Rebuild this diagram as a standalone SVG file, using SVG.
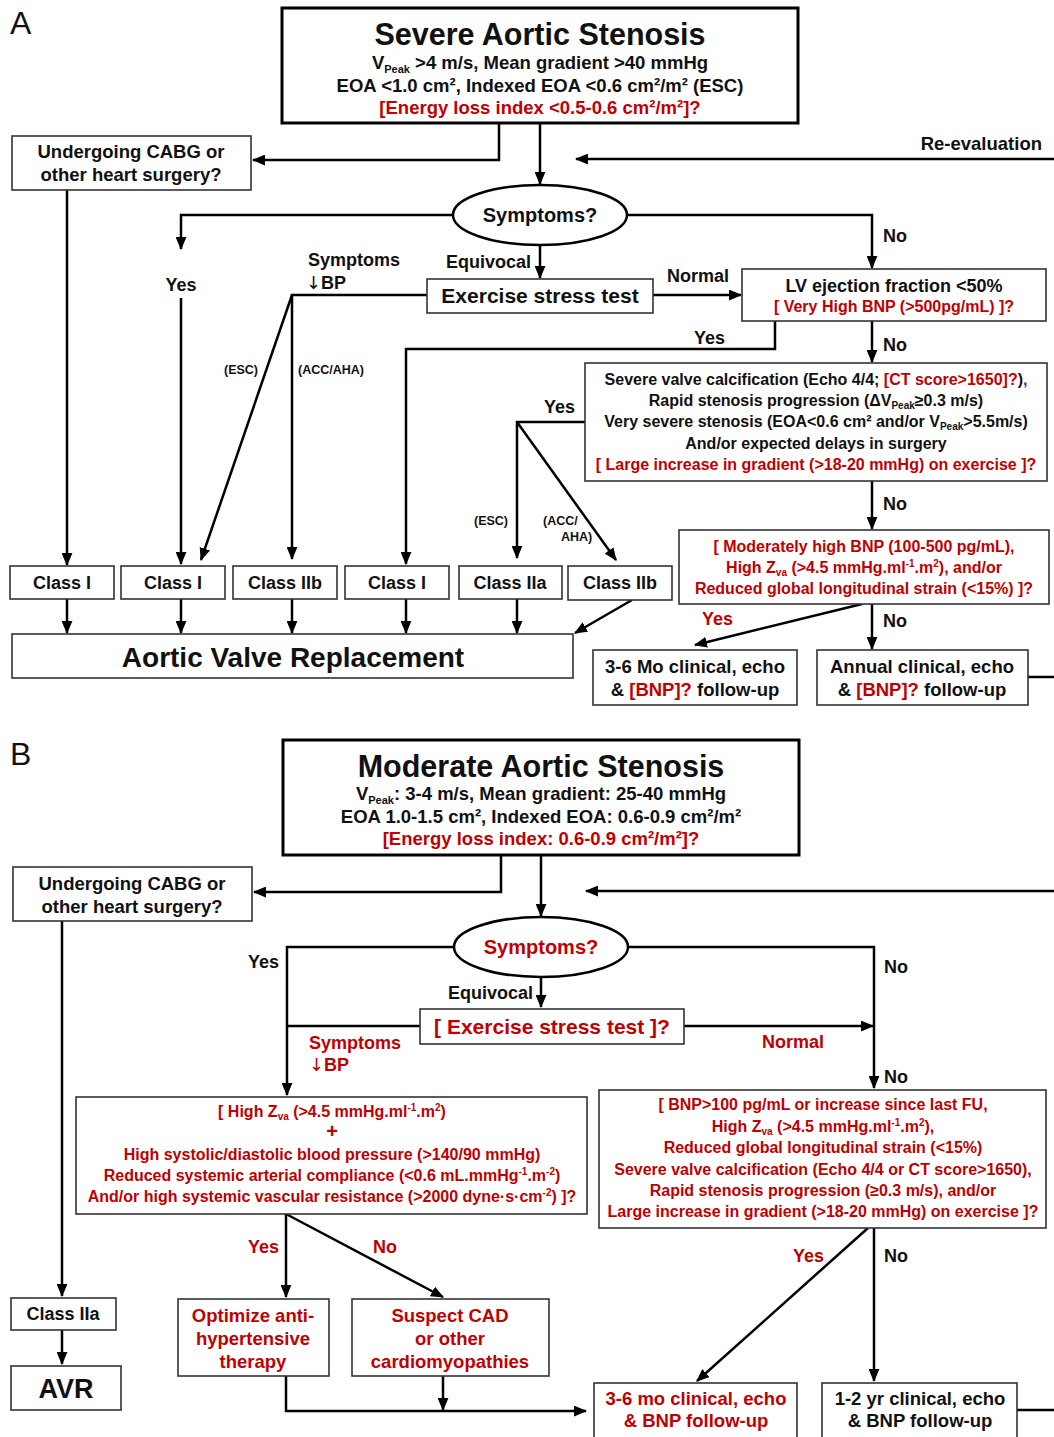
<svg xmlns="http://www.w3.org/2000/svg" width="1054" height="1437" viewBox="0 0 1054 1437">
<style>
text{font-family:"Liberation Sans",Arial,sans-serif;font-weight:bold;fill:#111}
.r{fill:#c00000}
.m{text-anchor:middle}
.e{text-anchor:end}
.box{fill:#fff;stroke:#333;stroke-width:1.6}
.mbox{fill:#fff;stroke:#000;stroke-width:3}
.ell{fill:#fff;stroke:#000;stroke-width:2.5}
.ln{fill:none;stroke:#000;stroke-width:2.5}
.ln path{marker-end:url(#ah)}
.ln path.na{marker-end:none}
.s17{font-size:18.5px}.s18{font-size:18px}.s185{font-size:18.5px}.s15{font-size:16px}.s12{font-size:12.5px}
.arw{font-family:"DejaVu Sans",sans-serif;font-weight:normal}
</style>
<defs>
<marker id="ah" viewBox="0 0 12 10" refX="11" refY="5" markerWidth="13" markerHeight="11" markerUnits="userSpaceOnUse" orient="auto"><path d="M0,0 L12,5 L0,10 z" fill="#000"/></marker>
</defs>
<rect width="1054" height="1437" fill="#fff"/>

<!-- ===== Part A ===== -->
<text x="10" y="34" style="font-size:32px;font-weight:normal">A</text>

<g id="connectors-A" class="ln">
<path d="M499,123 V160 H253"/>
<path d="M540,123 V184"/>
<path d="M1054,159 H576"/>
<path d="M67,190 V565"/>
<path d="M453,215 H181 V249"/>
<path d="M181,298 V564"/>
<path d="M627,215 H872 V268"/>
<path d="M540,245 V278"/>
<path d="M427,295 H292 V559"/>
<path d="M292,295 L201,560"/>
<path d="M653,295 H741"/>
<path d="M775,321 V349 H406 V564"/>
<path d="M872,321 V362"/>
<path d="M585,422 H517 V558"/>
<path d="M517,422 L616,560"/>
<path d="M872,481 V529"/>
<path d="M67,599 V633"/>
<path d="M181,599 V633"/>
<path d="M292,599 V633"/>
<path d="M406,599 V633"/>
<path d="M517,599 V633"/>
<path d="M632,600 L575,633"/>
<path d="M862,604 L695,645"/>
<path d="M872,604 V649"/>
<path class="na" d="M1028,677 H1054"/>
</g>

<g id="severe-as">
<rect class="mbox" x="282" y="8" width="516" height="115"/>
<text class="m" x="540" y="45" style="font-size:30.5px">Severe Aortic Stenosis</text>
<text class="m s185" x="540" y="69">V<tspan font-size="11" dy="4">Peak</tspan><tspan dy="-4"> &gt;4 m/s, Mean gradient &gt;40 mmHg</tspan></text>
<text class="m s185" x="540" y="92">EOA &lt;1.0 cm², Indexed EOA &lt;0.6 cm²/m² (ESC)</text>
<text class="m s185 r" x="540" y="114">[Energy loss index &lt;0.5-0.6 cm²/m²]?</text>
</g>

<g id="cabg-a">
<rect class="box" x="12" y="136" width="239" height="54"/>
<text class="m s185" x="131" y="158">Undergoing CABG or</text>
<text class="m s185" x="131" y="181">other heart surgery?</text>
</g>

<text class="e s185" x="1042" y="150">Re-evaluation</text>

<g id="symptoms-a">
<ellipse class="ell" cx="540" cy="215" rx="87" ry="30"/>
<text class="m" x="540" y="222" style="font-size:20px">Symptoms?</text>
</g>

<text class="m s18" x="181" y="291">Yes</text>
<text class="s18" x="308" y="266">Symptoms</text>
<text class="s18" x="306" y="289"><tspan class="arw">↓</tspan>BP</text>
<text class="e s18" x="531" y="268">Equivocal</text>
<text class="s18" x="667" y="282">Normal</text>
<text class="s18" x="883" y="242">No</text>

<g id="exercise-a">
<rect class="box" x="427" y="279" width="226" height="34"/>
<text class="m" x="540" y="303" style="font-size:21px">Exercise stress test</text>
</g>

<g id="lvef">
<rect class="box" x="742" y="269" width="304" height="52"/>
<text class="m s18" x="894" y="292">LV ejection fraction &lt;50%</text>
<text class="m r" x="894" y="312" style="font-size:16px">[ Very High BNP (&gt;500pg/mL) ]?</text>
</g>

<text class="s12" x="224" y="374">(ESC)</text>
<text class="s12" x="298" y="374">(ACC/AHA)</text>
<text class="s18" x="694" y="344">Yes</text>
<text class="s18" x="883" y="351">No</text>

<g id="calcification">
<rect class="box" x="585" y="363" width="462" height="118"/>
<text class="m s15" x="816" y="385">Severe valve calcification (Echo 4/4; <tspan class="r">[CT score&gt;1650]?</tspan>)<tspan fill="#2040a0">,</tspan></text>
<text class="m s15" x="816" y="406">Rapid stenosis progression (ΔV<tspan font-size="10" dy="3">Peak</tspan><tspan dy="-3">≥0.3 m/s)</tspan></text>
<text class="m s15" x="816" y="427">Very severe stenosis (EOA&lt;0.6 cm² and/or V<tspan font-size="10" dy="3">Peak</tspan><tspan dy="-3">&gt;5.5m/s)</tspan></text>
<text class="m s15" x="816" y="449">And/or expected delays in surgery</text>
<text class="m s15 r" x="816" y="470">[ Large increase in gradient (&gt;18-20 mmHg) on exercise ]?</text>
</g>

<text class="s18" x="544" y="413">Yes</text>
<text class="s12" x="474" y="525">(ESC)</text>
<text class="s12" x="543" y="525">(ACC/</text>
<text class="s12" x="561" y="541">AHA)</text>
<text class="s18" x="883" y="510">No</text>

<g id="bnp-a">
<rect class="box" x="679" y="530" width="370" height="74"/>
<text class="m s15 r" x="864" y="552">[ Moderately high BNP (100-500 pg/mL),</text>
<text class="m s15 r" x="864" y="573">High Z<tspan font-size="10" dy="3">va</tspan><tspan dy="-3"> (&gt;4.5 mmHg.ml</tspan><tspan font-size="10" dy="-6">-1</tspan><tspan dy="6">.m</tspan><tspan font-size="10" dy="-6">2</tspan><tspan dy="6">),  and/or</tspan></text>
<text class="m s15 r" x="864" y="594">Reduced global longitudinal strain (&lt;15%) ]?</text>
</g>

<g id="class-a1"><rect class="box" x="10" y="566" width="104" height="33"/><text class="m s18" x="62" y="589">Class I</text></g>
<g id="class-a2"><rect class="box" x="121" y="566" width="104" height="33"/><text class="m s18" x="173" y="589">Class I</text></g>
<g id="class-a3"><rect class="box" x="233" y="566" width="104" height="33"/><text class="m s18" x="285" y="589">Class IIb</text></g>
<g id="class-a4"><rect class="box" x="345" y="566" width="104" height="33"/><text class="m s18" x="397" y="589">Class I</text></g>
<g id="class-a5"><rect class="box" x="459" y="566" width="103" height="33"/><text class="m s18" x="510" y="589">Class IIa</text></g>
<g id="class-a6"><rect class="box" x="568" y="566" width="104" height="34"/><text class="m s18" x="620" y="589">Class IIb</text></g>

<g id="avr-a">
<rect class="box" x="12" y="634" width="561" height="44"/>
<text class="m" x="293" y="667" style="font-size:28px">Aortic Valve Replacement</text>
</g>

<text class="s18 r" x="702" y="625">Yes</text>
<text class="s18" x="883" y="627">No</text>

<g id="fu-36-a">
<rect class="box" x="593" y="650" width="204" height="55"/>
<text class="m" x="695" y="673" style="font-size:18.5px">3-6 Mo clinical, echo</text>
<text class="m" x="695" y="696" style="font-size:18.5px">&amp; <tspan class="r">[BNP]?</tspan> follow-up</text>
</g>
<g id="fu-annual-a">
<rect class="box" x="817" y="650" width="211" height="55"/>
<text class="m" x="922" y="673" style="font-size:18.5px">Annual clinical, echo</text>
<text class="m" x="922" y="696" style="font-size:18.5px">&amp; <tspan class="r">[BNP]?</tspan> follow-up</text>
</g>

<!-- ===== Part B ===== -->
<text x="10" y="765" style="font-size:32px;font-weight:normal">B</text>

<g id="connectors-B" class="ln">
<path d="M501,855 V892 H254"/>
<path d="M541,855 V916"/>
<path d="M1054,891 H586"/>
<path d="M62,921 V1296"/>
<path d="M454,947 H287 V1095"/>
<path d="M541,977 V1007"/>
<path class="na" d="M420,1026 H287"/>
<path d="M628,947 H874 V1088"/>
<path d="M684,1026 H873"/>
<path d="M286,1214 V1297"/>
<path d="M286,1214 L443,1297"/>
<path d="M286,1376 V1411 H586"/>
<path d="M443,1376 V1410"/>
<path d="M62,1330 V1364"/>
<path d="M868,1228 L697,1381"/>
<path d="M874,1228 V1381"/>
<path class="na" d="M1017,1410 H1054"/>
</g>

<g id="moderate-as">
<rect class="mbox" x="283" y="740" width="516" height="115"/>
<text class="m" x="541" y="777" style="font-size:30.5px">Moderate Aortic Stenosis</text>
<text class="m s185" x="541" y="800">V<tspan font-size="11" dy="4">Peak</tspan><tspan dy="-4">: 3-4 m/s, Mean gradient: 25-40 mmHg</tspan></text>
<text class="m s185" x="541" y="823">EOA 1.0-1.5 cm², Indexed EOA:  0.6-0.9 cm²/m²</text>
<text class="m s185 r" x="541" y="845">[Energy loss index: 0.6-0.9 cm²/m²]?</text>
</g>

<g id="cabg-b">
<rect class="box" x="13" y="867" width="239" height="54"/>
<text class="m s185" x="132" y="890">Undergoing CABG or</text>
<text class="m s185" x="132" y="913">other heart surgery?</text>
</g>

<g id="symptoms-b">
<ellipse class="ell" cx="541" cy="947" rx="87" ry="30"/>
<text class="m r" x="541" y="954" style="font-size:20px">Symptoms?</text>
</g>

<text class="s18" x="248" y="968">Yes</text>
<text class="e s18" x="533" y="999">Equivocal</text>
<text class="s18" x="884" y="973">No</text>

<g id="exercise-b">
<rect class="box" x="420" y="1009" width="264" height="35"/>
<text class="m r" x="552" y="1034" style="font-size:21px">[ Exercise stress test ]?</text>
</g>

<text class="s18 r" x="309" y="1049">Symptoms</text>
<text class="s18 r" x="309" y="1071"><tspan class="arw">↓</tspan>BP</text>
<text class="s18 r" x="762" y="1048">Normal</text>
<text class="s18" x="884" y="1083">No</text>

<g id="zva-b">
<rect class="box" x="76" y="1097" width="511" height="117"/>
<text class="m s15 r" x="332" y="1117">[ High Z<tspan font-size="10" dy="3">va</tspan><tspan dy="-3"> (&gt;4.5 mmHg.ml</tspan><tspan font-size="10" dy="-6">-1</tspan><tspan dy="6">.m</tspan><tspan font-size="10" dy="-6">2</tspan><tspan dy="6">)</tspan></text>
<text class="m r" x="332" y="1138" style="font-size:20px">+</text>
<text class="m s15 r" x="332" y="1160">High systolic/diastolic blood pressure (&gt;140/90 mmHg)</text>
<text class="m s15 r" x="332" y="1181">Reduced systemic arterial compliance (&lt;0.6 mL.mmHg<tspan font-size="10" dy="-6">-1</tspan><tspan dy="6">.m</tspan><tspan font-size="10" dy="-6">-2</tspan><tspan dy="6">)</tspan></text>
<text class="m s15 r" x="332" y="1202">And/or high systemic vascular resistance (&gt;2000 dyne·s·cm<tspan font-size="10" dy="-6">-2</tspan><tspan dy="6">) ]?</tspan></text>
</g>

<g id="bnp-b">
<rect class="box" x="599" y="1090" width="447" height="138"/>
<text class="m s15 r" x="823" y="1110">[ BNP&gt;100 pg/mL  or increase since last FU,</text>
<text class="m s15 r" x="823" y="1132">High Z<tspan font-size="10" dy="3">va</tspan><tspan dy="-3"> (&gt;4.5 mmHg.ml</tspan><tspan font-size="10" dy="-6">-1</tspan><tspan dy="6">.m</tspan><tspan font-size="10" dy="-6">2</tspan><tspan dy="6">),</tspan></text>
<text class="m s15 r" x="823" y="1153">Reduced global longitudinal strain (&lt;15%)</text>
<text class="m s15 r" x="823" y="1175">Severe valve calcification (Echo 4/4 or CT score&gt;1650),</text>
<text class="m s15 r" x="823" y="1196">Rapid stenosis progression (≥0.3 m/s), and/or</text>
<text class="m s15 r" x="823" y="1217">Large increase in gradient (&gt;18-20 mmHg)  on exercise ]?</text>
</g>

<text class="s18 r" x="248" y="1253">Yes</text>
<text class="s18 r" x="373" y="1253">No</text>
<text class="s18 r" x="793" y="1262">Yes</text>
<text class="s18" x="884" y="1262">No</text>

<g id="class-b"><rect class="box" x="11" y="1298" width="105" height="32"/><text class="m s18" x="63" y="1320">Class IIa</text></g>
<g id="avr-b"><rect class="box" x="11" y="1366" width="110" height="44"/><text class="m" x="66" y="1398" style="font-size:27px">AVR</text></g>

<g id="optimize">
<rect class="box" x="178" y="1299" width="151" height="77"/>
<text class="m r" x="253" y="1322" style="font-size:18.5px">Optimize anti-</text>
<text class="m r" x="253" y="1345" style="font-size:18.5px">hypertensive</text>
<text class="m r" x="253" y="1368" style="font-size:18.5px">therapy</text>
</g>
<g id="suspect">
<rect class="box" x="352" y="1299" width="197" height="77"/>
<text class="m r" x="450" y="1322" style="font-size:18.5px">Suspect CAD</text>
<text class="m r" x="450" y="1345" style="font-size:18.5px">or other</text>
<text class="m r" x="450" y="1368" style="font-size:18.5px">cardiomyopathies</text>
</g>

<g id="fu-36-b">
<rect class="box" x="594" y="1383" width="203" height="60"/>
<text class="m r" x="696" y="1405" style="font-size:18.5px">3-6 mo clinical, echo</text>
<text class="m r" x="696" y="1427" style="font-size:18.5px">&amp; BNP follow-up</text>
</g>
<g id="fu-12-b">
<rect class="box" x="822" y="1383" width="195" height="60"/>
<text class="m" x="920" y="1405" style="font-size:18.5px">1-2 yr clinical, echo</text>
<text class="m" x="920" y="1427" style="font-size:18.5px">&amp; BNP follow-up</text>
</g>
</svg>
